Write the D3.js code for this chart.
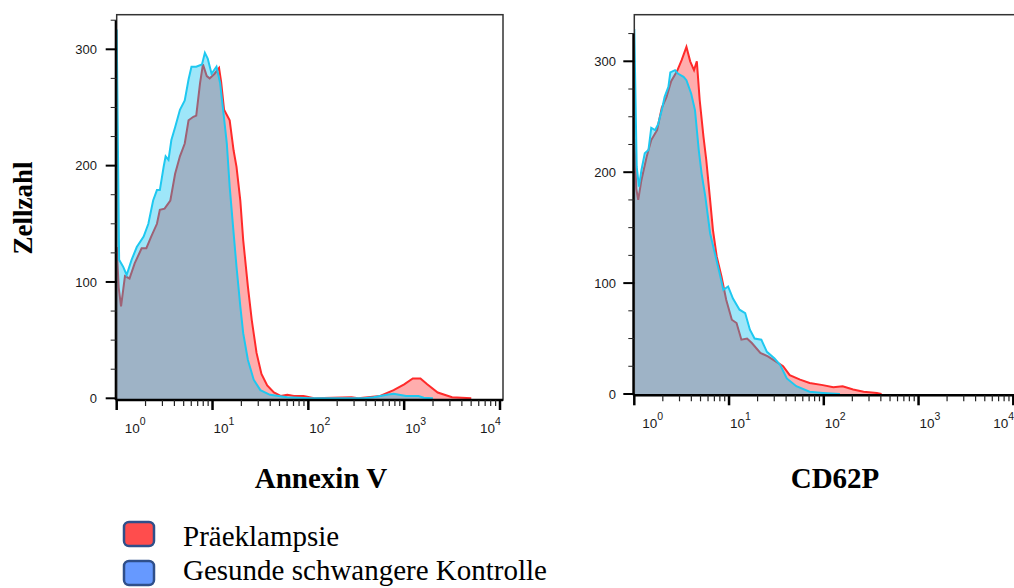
<!DOCTYPE html>
<html>
<head>
<meta charset="utf-8">
<script src="https://cdn.jsdelivr.net/npm/d3@7"></script>
<style>
	body { margin: 0; background: #fff; }
	svg { display: block; }
	.tick-label { font-family: "Liberation Sans", Arial, sans-serif; font-size: 13px; fill: #1a1a1a; }
	.title { font-family: "Liberation Serif", "Times New Roman", serif; font-weight: bold; fill: #000; }
	.legend-text { font-family: "Liberation Serif", "Times New Roman", serif; font-size: 29px; fill: #000; }
</style>
</head>
<body>
<svg></svg>
<script>
// [intensity, count]
const annexinPE = [
	[1, 130], [1.05, 95], [1.11, 79], [1.22, 105], [1.36, 103], [1.54, 116], [1.82, 129],
	[2.04, 129], [2.29, 139], [2.63, 150], [2.82, 162], [3.16, 163], [3.63, 170], [4.07, 193],
	[4.57, 208], [5.13, 219], [5.62, 239], [6.31, 242], [6.76, 243], [7.41, 271], [7.94, 287],
	[8.71, 277], [9.33, 275], [10.5, 279], [11.7, 284], [12.3, 272], [13.2, 248], [15.1, 239],
	[16.6, 213], [17.8, 199], [19.5, 170], [20.9, 136], [23.4, 96], [25.7, 67], [28.8, 39],
	[32.4, 21], [37.2, 11], [43.7, 5], [51.3, 2], [60.3, 3], [70.8, 2], [89.1, 2], [115, 0],
	[282, 1], [331, 0], [562, 2], [776, 7], [1000, 12], [1230, 17], [1479, 17], [1738, 12],
	[2239, 5], [3162, 1], [5012, 0]
];
const annexinControl = [
	[1, 317], [1.06, 119], [1.17, 113], [1.27, 106], [1.43, 119], [1.62, 130], [1.91, 139],
	[2.14, 150], [2.4, 170], [2.63, 179], [2.82, 179], [3.09, 199], [3.24, 208], [3.47, 205],
	[3.72, 222], [4.07, 233], [4.57, 248], [5.13, 256], [5.62, 274], [6.03, 285], [6.76, 285],
	[7.76, 287], [8.32, 297], [8.91, 292], [9.77, 279], [11.0, 285], [12.0, 271], [12.9, 248],
	[14.1, 219], [15.1, 182], [16.6, 142], [17.8, 113], [19.5, 79], [20.9, 56], [23.4, 33],
	[26.9, 16], [31.6, 7], [39.8, 3], [60.3, 1], [105, 0], [380, 0], [479, 1], [661, 3],
	[776, 4], [1047, 2], [1413, 2], [1600, 0.5], [1995, 0]
];
const cd62pPE = [
	[1, 230], [1.05, 185], [1.1, 175], [1.19, 193], [1.35, 214], [1.51, 229], [1.74, 238],
	[1.95, 258], [2.19, 268], [2.45, 282], [2.82, 291], [3.16, 301], [3.55, 313], [3.89, 300],
	[4.27, 292], [4.57, 300], [4.9, 265], [5.37, 232], [5.75, 211], [6.31, 175], [6.76, 148],
	[7.41, 124], [8.32, 106], [9.33, 85], [10.7, 67], [12.0, 64], [13.5, 49], [15.5, 50],
	[17.4, 46], [21.4, 37], [25.7, 34], [31.6, 29], [37.2, 25], [43.7, 17], [56.2, 13],
	[70.8, 10], [97.7, 8], [126, 6], [158, 7], [204, 4], [263, 2], [363, 1], [407, 0]
];
const cd62pControl = [
	[1, 329], [1.06, 205], [1.12, 187], [1.19, 202], [1.29, 217], [1.41, 220], [1.51, 240],
	[1.66, 238], [1.78, 243], [1.95, 256], [2.09, 268], [2.29, 277], [2.4, 290], [2.69, 292],
	[2.88, 289], [3.31, 286], [3.55, 283], [3.98, 271], [4.37, 256], [4.79, 220], [5.13, 199],
	[5.62, 178], [6.31, 145], [7.08, 127], [7.94, 109], [8.71, 94], [9.77, 97], [11.0, 86],
	[12.9, 76], [14.8, 73], [16.6, 58], [18.6, 50], [21.9, 49], [25.1, 38], [30.2, 32],
	[34.7, 26], [40.7, 14], [51.3, 7], [70.8, 2], [97.7, 1], [148, 0]
];

const yMajorTicks = [0, 100, 200, 300];
const xDecades = [0, 1, 2, 3, 4];
const legendLabels = ["Präeklampsie", "Gesunde schwangere Kontrolle"];
const legendColors = ["#ff4d4d", "#6699ff"];

const size = { w: 1014, h: 588 };
const svg = d3.select("svg").attr("width", size.w).attr("height", size.h);

const panels = [
	{ id: "annexin", left: 116.7, right: 500, top: 14.7, bottom: 400, y0: 398.3, y300: 49.3,
	  labelRight: 97, title: "Annexin V", titleX: 321, pe: annexinPE, ctrl: annexinControl },
	{ id: "cd62p", left: 634.3, right: 1013.3, top: 14.7, bottom: 395.3, y0: 394, y300: 61.3,
	  labelRight: 616, title: "CD62P", titleX: 835, pe: cd62pPE, ctrl: cd62pControl }
];

panels.forEach(drawPanel);

function drawPanel(p) {
	const g = svg.append("g").classed(p.id, true);

	const x = d3.scaleLog().domain([1, 10000]).range([p.left, p.right]);
	const y = d3.scaleLinear().domain([0, 300]).range([p.y0, p.y300]);

	// clip so the curves stay inside the frame
	g.append("clipPath").attr("id", "clip-" + p.id)
		.append("rect")
		.attr("x", p.left).attr("y", p.top)
		.attr("width", p.right + 3 - p.left).attr("height", p.bottom - p.top);

	const area = d3.area()
		.x((d) => x(d[0]))
		.y0(p.bottom)
		.y1((d) => y(d[1]));
	const line = d3.line()
		.x((d) => x(d[0]))
		.y((d) => y(d[1]));

	const plot = g.append("g").attr("clip-path", `url(#clip-${p.id})`);

	// red first, the cyan layer sits on top and tints it
	plot.append("path").datum(p.pe).attr("d", area)
		.attr("fill", "rgba(255,0,0,0.32)");
	plot.append("path").datum(p.pe).attr("d", line)
		.attr("fill", "none").attr("stroke", "#ff2a2a").attr("stroke-width", 2);
	plot.append("path").datum(p.ctrl).attr("d", area)
		.attr("fill", "rgba(0,190,240,0.38)");
	plot.append("path").datum(p.ctrl).attr("d", line)
		.attr("fill", "none").attr("stroke", "#1ec8f0").attr("stroke-width", 2);

	// frame
	g.append("rect")
		.attr("x", p.left).attr("y", p.top)
		.attr("width", p.right + 3 - p.left).attr("height", p.bottom - p.top)
		.attr("fill", "none").attr("stroke", "#333").attr("stroke-width", 1.5);

	// y axis
	g.append("line")
		.attr("x1", p.left - 1).attr("x2", p.left - 1)
		.attr("y1", y(325)).attr("y2", p.bottom)
		.attr("stroke", "#000").attr("stroke-width", 2);
	const yMinor = d3.range(25, 330, 25).filter((v) => v % 100 !== 0);
	g.selectAll(".y-minor").data(yMinor).join("line").classed("y-minor", true)
		.attr("x1", p.left - 6).attr("x2", p.left)
		.attr("y1", (d) => y(d)).attr("y2", (d) => y(d))
		.attr("stroke", "#222").attr("stroke-width", 1);
	g.selectAll(".y-major").data(yMajorTicks).join("line").classed("y-major", true)
		.attr("x1", p.left - 11).attr("x2", p.left)
		.attr("y1", (d) => y(d)).attr("y2", (d) => y(d))
		.attr("stroke", "#000").attr("stroke-width", 2);
	g.selectAll(".y-label").data(yMajorTicks).join("text")
		.attr("class", "tick-label y-label")
		.attr("x", p.labelRight).attr("y", (d) => y(d))
		.attr("dy", "0.35em").attr("text-anchor", "end")
		.text((d) => d);

	// x axis
	g.append("line")
		.attr("x1", p.left - 1).attr("x2", p.right + 3)
		.attr("y1", p.bottom).attr("y2", p.bottom)
		.attr("stroke", "#000").attr("stroke-width", 2.5);
	const xMinor = [];
	xDecades.slice(0, -1).forEach((k) => {
		for (let m = 2; m <= 9; m++) xMinor.push(m * Math.pow(10, k));
	});
	g.selectAll(".x-minor").data(xMinor).join("line").classed("x-minor", true)
		.attr("x1", (d) => x(d)).attr("x2", (d) => x(d))
		.attr("y1", p.bottom).attr("y2", p.bottom + 6)
		.attr("stroke", "#222").attr("stroke-width", 1.2);
	g.selectAll(".x-major").data(xDecades).join("line").classed("x-major", true)
		.attr("x1", (d) => x(Math.pow(10, d))).attr("x2", (d) => x(Math.pow(10, d)))
		.attr("y1", p.bottom).attr("y2", p.bottom + 10)
		.attr("stroke", "#000").attr("stroke-width", 2.5);

	const xLabels = g.selectAll(".x-label").data(xDecades).join("text")
		.attr("class", "tick-label x-label")
		.attr("x", (d, i) => {
			let off = 1;
			if (i === 0) off = 8;
			if (i === xDecades.length - 1) off = -20;
			return x(Math.pow(10, d)) + off;
		})
		.attr("y", p.bottom + 33)
		.style("font-size", "13.5px");
	xLabels.append("tspan").text("10");
	xLabels.append("tspan").attr("dy", -8).style("font-size", "10.5px").text((d) => d);

	// axis title
	g.append("text").attr("class", "title")
		.attr("x", p.titleX).attr("y", 488)
		.attr("text-anchor", "middle")
		.style("font-size", "29px")
		.text(p.title);
}

// shared y title
svg.append("text").attr("class", "title")
	.attr("transform", "translate(32,208) rotate(-90)")
	.attr("text-anchor", "middle")
	.style("font-size", "27px")
	.text("Zellzahl");

// legend
const legendG = svg.append("g").classed("legend", true);
const legendRows = legendG.selectAll("g").data(legendLabels).join("g")
	.attr("transform", (d, i) => `translate(0,${i * 39})`);
legendRows.append("rect")
	.attr("x", 124).attr("y", 522)
	.attr("width", 30).attr("height", 24)
	.attr("rx", 5)
	.attr("fill", (d, i) => legendColors[i])
	.attr("stroke", "#2f4f8a").attr("stroke-width", 2.5);
legendRows.append("text").attr("class", "legend-text")
	.attr("x", 183).attr("y", (d, i) => 546 - i * 5)
	.text((d) => d);
</script>
</body>
</html>
